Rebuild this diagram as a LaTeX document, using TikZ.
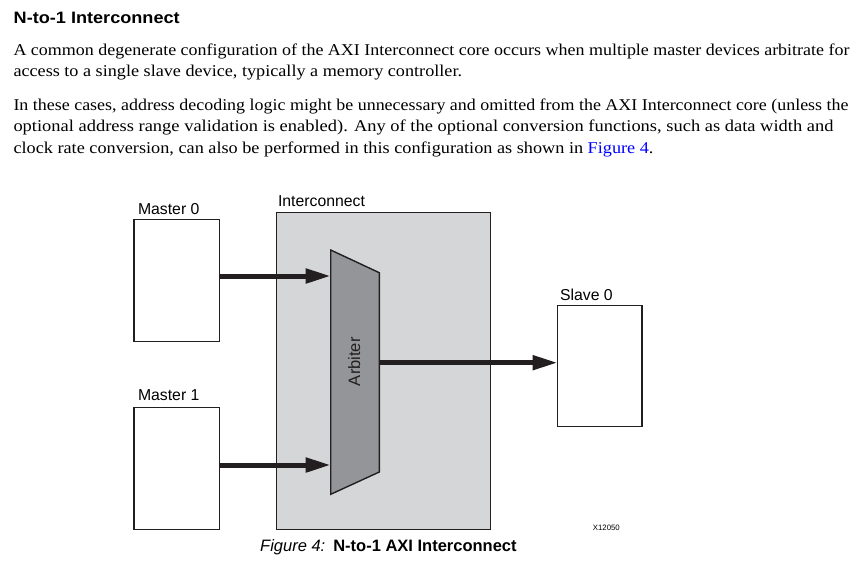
\documentclass[tikz,border=0pt]{standalone}
\usepackage{fontspec}
\setmainfont{Liberation Serif}
\setsansfont{Liberation Sans}
\usetikzlibrary{arrows.meta}
\definecolor{ink}{HTML}{231F20}
\definecolor{icfill}{HTML}{D5D6D8}
\definecolor{arbfill}{HTML}{939598}
\definecolor{linkblue}{HTML}{0000FF}
\begin{document}
\begin{tikzpicture}[x=1pt,y=-1pt,
  box/.style={draw=ink, line width=1.4pt, fill=white, inner sep=0pt, outer sep=0pt},
  lbl/.style={anchor=base west, inner sep=0pt, font=\fontsize{15.8}{18}\selectfont\sffamily},
  bus/.style={line width=5pt, draw=ink, -{Triangle[length=25pt,width=14pt]}},
  body/.style={anchor=base west, inner sep=0pt, font=\fontsize{16.5}{20}\selectfont}]
\useasboundingbox (0,0) rectangle (857,560);
% text block
\node[anchor=base west, inner sep=0pt, font=\fontsize{16.5}{20}\selectfont\sffamily\bfseries] (head) at (13.5,23.3) {\resizebox{166pt}{\height}{N-to-1 Interconnect}};
\node[body] (l1) at (13.3,55) {\resizebox{836pt}{\height}{A common degenerate configuration of the AXI Interconnect core occurs when multiple master devices arbitrate for}};
\node[body] (l2) at (13.3,76.5) {\resizebox{448.5pt}{\height}{access to a single slave device, typically a memory controller.}};
\node[body] (l3) at (13.3,110) {\resizebox{835pt}{\height}{In these cases, address decoding logic might be unnecessary and omitted from the AXI Interconnect core (unless the}};
\node[body] (l4) at (13.3,131.7) {\resizebox{820pt}{\height}{optional address range validation is enabled). Any of the optional conversion functions, such as data width and}};
\node[body] (l5) at (13.3,153.3) {\resizebox{640pt}{\height}{clock rate conversion, can also be performed in this configuration as shown in \textcolor{linkblue}{Figure 4}.}};
% diagram
\node[box, fill=icfill, minimum width=214pt, minimum height=317pt] (ic) at (383.5,371) {};
\node[box, minimum width=85.5pt, minimum height=122pt] (m0) at (176.8,280.5) {};
\node[box, minimum width=85.5pt, minimum height=122pt] (m1) at (176.8,468.3) {};
\node[box, minimum width=84.5pt, minimum height=121pt] (s0) at (599.8,366) {};
\coordinate (atl) at (330.7,250);
\coordinate (atr) at (379.3,272.7);
\coordinate (abr) at (379.3,472);
\coordinate (abl) at (330.7,494.3);
\draw[draw=ink, fill=arbfill, line width=1.4pt, line join=miter] (atl) -- (atr) -- (abr) -- (abl) -- cycle;
\node[rotate=90, inner sep=0pt, font=\fontsize{16.5}{18}\selectfont\sffamily, text=ink] (arb) at (354.2,361.7) {Arbiter};
\coordinate (in0) at (330.7,276);
\coordinate (in1) at (330.7,465);
\coordinate (out) at (379.3,362.7);
\draw[bus] (m0.east |- in0) -- (in0);
\draw[bus] (m1.east |- in1) -- (in1);
\draw[bus] (out) -- (out -| s0.west);
% labels
\node[lbl] (lm0) at (137.8,214.3) {Master 0};
\node[lbl] (lm1) at (137.8,400.7) {Master 1};
\node[lbl] (lic) at (277.8,206.7) {Interconnect};
\node[lbl] (ls0) at (559.9,300.7) {Slave 0};
\node[anchor=base west, inner sep=0pt, font=\fontsize{7.8}{9}\selectfont\sffamily] (xid) at (592.7,530.7) {X12050};
\node[anchor=base west, inner sep=0pt, font=\fontsize{16.5}{20}\selectfont\sffamily] (cap) at (260,551.7) {\textit{Figure 4:}\hspace{8pt}\textbf{N-to-1 AXI Interconnect}};
\end{tikzpicture}
\end{document}
